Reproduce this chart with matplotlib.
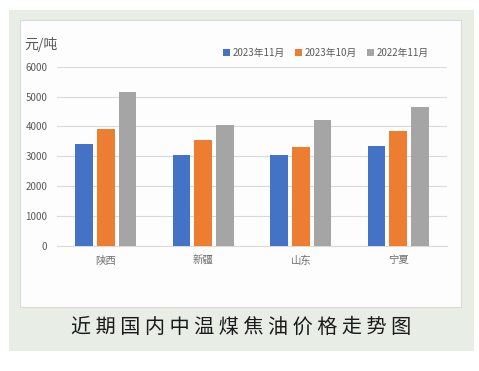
import matplotlib
matplotlib.use('Agg')
import matplotlib.pyplot as plt
import matplotlib.patches as mpatches
import numpy as np

plt.rcParams['font.family'] = ['Noto Sans CJK SC', 'DejaVu Sans']

# 数据
regions = ['陕西', '新疆', '山东', '宁夏']
series_names = ['2023年11月', '2023年10月', '2022年11月']
nov_2023 = [3410, 3030, 3030, 3350]
oct_2023 = [3910, 3550, 3320, 3860]
nov_2022 = [5150, 4050, 4230, 4650]
colors = ['#4472C4', '#ED7D31', '#A5A5A5']
yticks = [0, 1000, 2000, 3000, 4000, 5000, 6000]

W, H = 479, 371
fig = plt.figure(figsize=(W / 100, H / 100), dpi=100)
fig.patch.set_facecolor('white')

# 外框背景
fig.patches.append(mpatches.Rectangle((9 / W, 1 - 351 / H), 465 / W, 341 / H,
                                      transform=fig.transFigure, facecolor='#E8EEE6',
                                      edgecolor='none', zorder=-10))
fig.patches.append(mpatches.Rectangle((20 / W, 1 - 307 / H), 441 / W, 287 / H,
                                      transform=fig.transFigure, facecolor='#FDFDFD',
                                      edgecolor='#D9D9D9', linewidth=0.8, zorder=-9))

ax = fig.add_axes([57 / W, 1 - 245.7 / H, 390 / W, 179 / H])
ax.set_facecolor('none')

x = np.arange(len(regions))
bw = 0.18
step = 0.222
for i, (vals, name) in enumerate(zip([nov_2023, oct_2023, nov_2022], series_names)):
    ax.bar(x + (i - 1) * step, vals, width=bw, color=colors[i], label=name, zorder=3)

ax.set_xlim(-0.5, len(regions) - 0.5)
ax.set_ylim(0, 6000)
ax.set_yticks(yticks)
ax.set_yticklabels([str(v) for v in yticks], fontsize=7, color='#595959')
ax.set_xticks(x)
ax.set_xticklabels(regions, fontsize=7.5, color='#707070')
ax.tick_params(axis='x', length=0, pad=7)
ax.tick_params(axis='y', length=0, pad=7)
ax.grid(axis='y', color='#D9D9D9', linewidth=0.8, zorder=0)
for s in ['top', 'right', 'left']:
    ax.spines[s].set_visible(False)
ax.spines['bottom'].set_color('#D9D9D9')

fig.text(24 / W, 1 - 45 / H, '元/吨', fontsize=10, color='#595959', va='center', ha='left')

ax.legend(loc='center', bbox_to_anchor=(326 / W, 1 - 52.5 / H), bbox_transform=fig.transFigure,
          ncol=3, frameon=False, fontsize=7, handlelength=0.7, handleheight=0.7,
          handletextpad=0.3, columnspacing=1.0, labelcolor='#595959')

fig.text(241 / W, 1 - 327 / H, ' '.join('近期国内中温煤焦油价格走势图'), fontsize=14.5,
         color='#1a1a1a', ha='center', va='center')

fig.savefig('out.png', dpi=100)
